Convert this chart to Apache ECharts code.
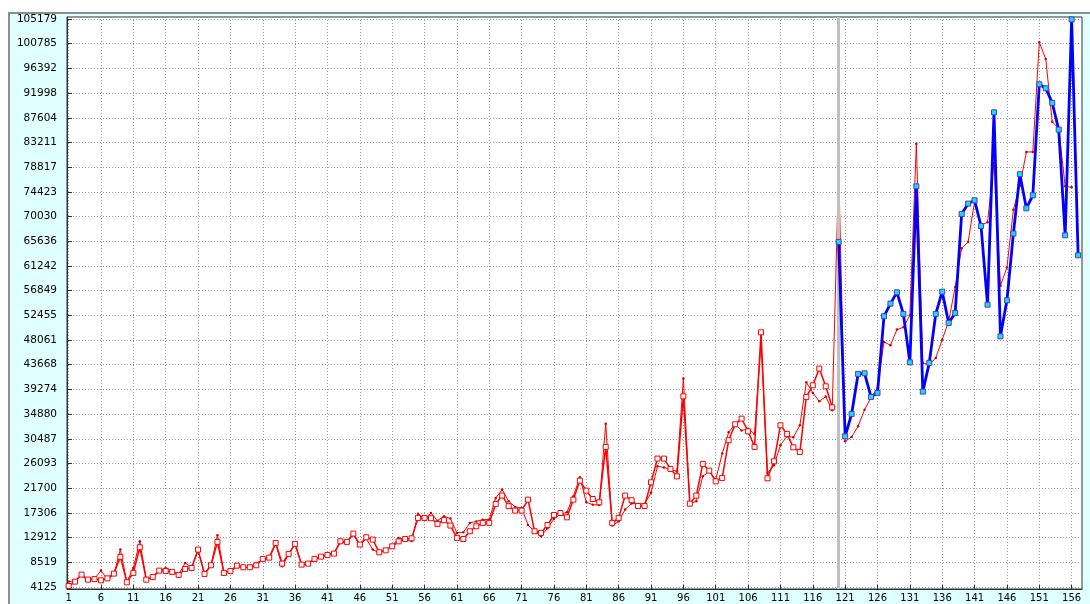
<!doctype html>
<html>
<head>
<meta charset="utf-8">
<title>chart</title>
<style>
html, body { margin: 0; padding: 0; background: #fff; }
#frame {
	position: absolute; left: 8px; top: 12px; width: 1082px; height: 592px;
	background: #e0ffff; border-top: 2px solid #8c8c8c; border-left: 2px solid #8c8c8c;
	box-sizing: border-box;
}
#main { position: absolute; left: 0; top: 0; width: 1090px; height: 604px; }
</style>
</head>
<body>
<div id="frame"></div>
<div id="main"></div>
<script src="https://cdn.jsdelivr.net/npm/echarts@6/dist/echarts.min.js"></script>
<script>
// observed values, periods 1..119
var actual = [4300, 5085, 6330, 5440, 5530, 5320, 5660, 6510, 9480, 4960,
	6630, 11190, 5440, 5920, 7040, 6980, 6810, 6280, 7340, 7520,
	10780, 6450, 7990, 12150, 6630, 6980, 7930, 7640, 7640, 7990,
	9120, 9350, 11970, 8290, 10010, 11790, 8110, 8290, 9120, 9530,
	9830, 10070, 12260, 12150, 13630, 11670, 12970, 12560, 10300, 10650,
	11360, 12250, 12670, 12780, 16420, 16420, 16360, 15350, 16010, 15060,
	12860, 12670, 14040, 14930, 15530, 15530, 18910, 20390, 18500, 17720,
	17720, 19670, 14040, 13750, 15150, 16930, 17290, 16520, 19670, 23050,
	21270, 19780, 19200, 29050, 15530, 16420, 20390, 19560, 18540, 18540,
	22750, 26970, 26970, 25130, 23820, 38050, 18960, 20385, 26025, 24830,
	22930, 23530, 30230, 33070, 34080, 31820, 29050, 49440, 23470, 26490,
	32890, 31360, 28980, 28160, 37940, 40010, 42980, 39830, 36090];

// model values, periods 1..156
var fitted = [5100, 5200, 6200, 5200, 5600, 7040, 5500, 6400, 10780, 5000,
	7520, 12260, 5600, 5900, 6900, 7520, 7000, 6300, 8410, 7600,
	10500, 6500, 8000, 13330, 6700, 6900, 7700, 7500, 7700, 8400,
	8900, 9200, 11800, 7800, 9900, 11900, 8000, 8200, 9000, 9400,
	9900, 10200, 12000, 12100, 13400, 11600, 12700, 10780, 10200, 10800,
	11400, 12840, 12600, 12300, 17180, 16200, 17300, 15900, 16720, 16300,
	13750, 13870, 15530, 15800, 16100, 16130, 19980, 21450, 19380, 18380,
	18200, 15150, 14040, 13160, 14570, 16240, 17100, 17410, 20270, 23640,
	19200, 18770, 18700, 33190, 15060, 15800, 17900, 19000, 18900, 18900,
	20880, 25600, 25400, 25000, 24710, 41200, 18960, 19370, 23820, 24700,
	23230, 27860, 31650, 33100, 31950, 32290, 31360, 47550, 24420, 25790,
	29330, 30950, 30770, 32890, 40540, 38660, 37160, 38000, 35560, 78380,
	30050, 30830, 32710, 35680, 37820, 39550, 47730, 47140, 49920, 50330,
	52460, 83000, 43990, 43700, 44880, 48140, 51410, 57480, 64400, 65500,
	72700, 68500, 69010, 79570, 57740, 60950, 71260, 75500, 81530, 81530,
	101030, 98070, 86920, 85670, 75410, 75230];

// hold-out values, periods 120..157
var holdout = [65520, 30930, 34920, 42030, 42150, 37940, 38660, 52290, 54540, 56550,
	52710, 44100, 75410, 38890, 44000, 52710, 56670, 51110, 52890, 70500,
	72330, 72920, 68350, 54360, 88570, 48720, 55130, 67020, 77570, 71500,
	73810, 93560, 92850, 90250, 85500, 66690, 105100, 63140];
var holdoutStart = 120;
var splitAt = 120;

var yTicks = [4125, 8519, 12912, 17306, 21700, 26093, 30487, 34880, 39274, 43668,
	48061, 52455, 56849, 61242, 65636, 70030, 74423, 78817, 83211, 87604,
	91998, 96392, 100785, 105179];
var xTicks = [];
for (var t = 1; t <= 156; t += 5) xTicks.push(t);

var myChart = echarts.init(document.getElementById('main'));

function pairs(arr, start) {
	return arr.map(function (v, i) { return [start + i, v]; });
}

var dotted = { show: true, lineStyle: { color: '#9a9a9a', type: [1, 2], width: 1 } };

var option = {
	animation: false,
	backgroundColor: 'transparent',
	grid: {
		left: 67, right: 8, top: 17, bottom: 15,
		show: true, backgroundColor: '#ffffff', borderColor: '#303030', borderWidth: 1
	},
	xAxis: {
		type: 'value',
		min: 0.75, max: 157.6,
		axisLine: { show: true, onZero: false, lineStyle: { color: '#303030' } },
		axisTick: { show: true, inside: true, length: 4, customValues: xTicks, lineStyle: { color: '#303030' } },
		axisLabel: {
			customValues: xTicks, margin: 4,
			color: '#000', fontFamily: 'DejaVu Sans', fontSize: 10,
			formatter: function (v) { return String(Math.round(v)); }
		},
		splitLine: dotted
	},
	yAxis: {
		type: 'value',
		min: 3770, max: 105535,
		axisLine: { show: true, lineStyle: { color: '#303030' } },
		axisTick: { show: true, inside: true, length: 5, customValues: yTicks, lineStyle: { color: '#303030' } },
		axisLabel: {
			customValues: yTicks, margin: 10,
			color: '#000', fontFamily: 'DejaVu Sans', fontSize: 10.5,
			formatter: function (v) { return String(Math.round(v)); }
		},
		splitLine: dotted
	},
	series: [
		{
			type: 'line',
			data: pairs(fitted, 1),
			symbol: 'circle', symbolSize: 2.5,
			itemStyle: { color: '#d00000' },
			lineStyle: { color: '#ff0000', width: 1 },
			z: 2
		},
		{
			type: 'line',
			data: pairs(actual, 1),
			symbol: 'rect', symbolSize: 5,
			itemStyle: { color: '#ffffff', borderColor: '#ff0000', borderWidth: 1 },
			lineStyle: { color: '#ff0000', width: 1.5 },
			z: 3,
			markLine: {
				silent: true, symbol: 'none',
				label: { show: false },
				lineStyle: { color: '#c0c0c0', width: 3, type: 'solid' },
				data: [{ xAxis: splitAt }]
			}
		},
		{
			type: 'line',
			data: pairs(holdout, holdoutStart),
			symbol: 'rect', symbolSize: 5,
			itemStyle: { color: '#00e8ff', borderColor: '#6a2fb0', borderWidth: 1 },
			lineStyle: { color: '#0000ff', width: 2.8 },
			z: 5
		}
	]
};

myChart.setOption(option);
</script>
</body>
</html>
